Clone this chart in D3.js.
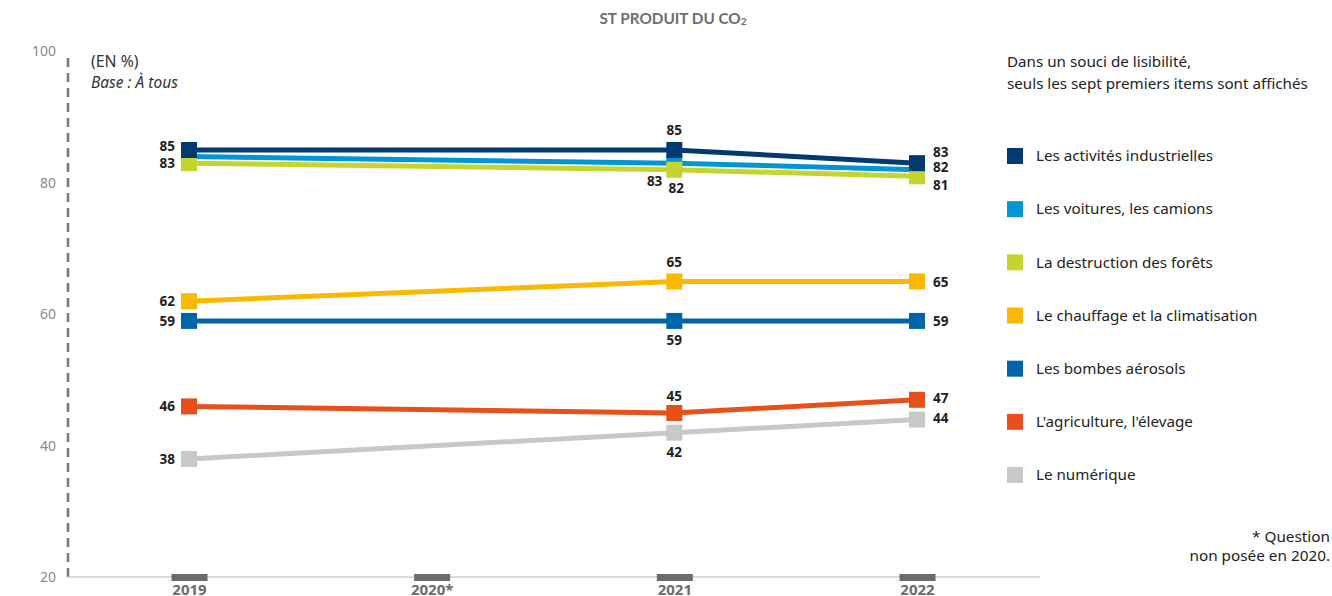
<!DOCTYPE html>
<html lang="fr">
<head>
<meta charset="utf-8">
<script src="https://cdn.jsdelivr.net/npm/d3@7"></script>
<style>
  html, body { margin: 0; padding: 0; background: #fff; }
  svg { display: block; font-family: "Noto Sans", "Open Sans", sans-serif; }
</style>
</head>
<body>
<svg id="chart" width="1332" height="596"></svg>
<script>
// Years on the x axis (2020 was not asked)
const years = ["2019", "2020*", "2021", "2022"];
const dataYears = ["2019", "2021", "2022"];

// Items, in legend order
const items = [
  "Les activités industrielles",
  "Les voitures, les camions",
  "La destruction des forêts",
  "Le chauffage et la climatisation",
  "Les bombes aérosols",
  "L'agriculture, l'élevage",
  "Le numérique"
];

// Values (%) for 2019, 2021, 2022
const industrie   = [85, 85, 83];
const voitures    = [84, 83, 82];
const forets      = [83, 82, 81];
const chauffage   = [62, 65, 65];
const aerosols    = [59, 59, 59];
const agriculture = [46, 45, 47];
const numerique   = [38, 42, 44];

const yTicks = [20, 40, 60, 80, 100];

const colors = ["#003a70", "#0096d6", "#c4d52f", "#fbb800", "#0065a8", "#e8501b", "#c8c8c8"];

const seriesValues = [industrie, voitures, forets, chauffage, aerosols, agriculture, numerique];
const series = items.map((name, i) => ({ name, color: colors[i], values: seriesValues[i] }));

// Where each value label sits relative to its marker: [dx, dy, anchor], null = no label
const labelPlacement = [
  [[-14, -4, "end"], [0, -20, "middle"], [16, -11, "start"]],
  [null,             [-12, 18, "end"],   [16, -2, "start"]],
  [[-14, 0, "end"],  [2, 19, "middle"],  [16, 9, "start"]],
  [[-14, 0, "end"],  [0, -19, "middle"], [16, 1, "start"]],
  [[-14, 0, "end"],  [0, 19, "middle"],  [16, 0, "start"]],
  [[-14, 0, "end"],  [0, -17, "middle"], [16, -2, "start"]],
  [[-14, 0, "end"],  [0, 20, "middle"],  [16, -1, "start"]]
];

const svg = d3.select("#chart");

const x = d3.scalePoint().domain(years).range([189, 917]);
const y = d3.scaleLinear().domain([20, 100]).range([577.3, 51.4]);

// Title
const title = svg.append("text")
  .attr("x", 673).attr("y", 24)
  .attr("text-anchor", "middle")
  .attr("font-family", "Lato, 'Noto Sans', sans-serif")
  .attr("font-weight", 700).attr("font-size", 15.3)
  .attr("fill", "#6e6e6e")
  .text("ST PRODUIT DU CO");
title.append("tspan").attr("font-size", 10).attr("dy", 1).text("2");

// Y axis: dashed line with tick labels
svg.append("line")
  .attr("x1", 68).attr("x2", 68)
  .attr("y1", 58).attr("y2", 577)
  .attr("stroke", "#7a7a7a").attr("stroke-width", 2.6)
  .attr("stroke-dasharray", "9,6");

const yAxis = svg.append("g")
  .attr("transform", "translate(56,0)")
  .call(d3.axisLeft(y).tickValues(yTicks).tickSize(0).tickPadding(0));
yAxis.select(".domain").remove();
yAxis.selectAll("text")
  .attr("font-family", "'Noto Sans', sans-serif")
  .attr("font-size", 14).attr("fill", "#8a8a8a");

// X axis: light baseline, dark tick blocks, bold year labels
svg.append("line")
  .attr("x1", 68).attr("x2", 1040)
  .attr("y1", 577).attr("y2", 577)
  .attr("stroke", "#cfcfcf").attr("stroke-width", 1.5);

const xAxis = svg.append("g")
  .attr("transform", "translate(0,574)")
  .call(d3.axisBottom(x).tickSize(0).tickPadding(0));
xAxis.select(".domain").remove();
xAxis.selectAll(".tick").append("rect")
  .attr("x", -18).attr("y", 0).attr("width", 36).attr("height", 7)
  .attr("fill", "#6b6b6b");
xAxis.selectAll(".tick text")
  .attr("y", 10)
  .attr("dy", "0.71em")
  .attr("font-family", "'Noto Sans', sans-serif")
  .attr("font-weight", 700).attr("font-size", 15)
  .attr("fill", "#6b6b6b");

// Unit and base
svg.append("text").attr("x", 91).attr("y", 67)
  .attr("font-size", 15.8).attr("fill", "#333").text("(EN %)");
svg.append("text").attr("x", 91).attr("y", 88)
  .attr("font-size", 15.5).attr("font-style", "italic").attr("fill", "#333").text("Base : À tous");

// Lines and markers; the second series goes underneath the others
const drawOrder = [1, 6, 5, 4, 3, 2, 0];
const line = d3.line().x(d => x(d.year)).y(d => y(d.value));
const plot = svg.append("g");

drawOrder.forEach(i => {
  const s = series[i];
  const pts = dataYears.map((yr, k) => ({ year: yr, value: s.values[k] }));
  const g = plot.append("g");
  g.append("path").datum(pts)
    .attr("d", line).attr("fill", "none")
    .attr("stroke", "#fff").attr("stroke-width", 7);
  g.append("path").datum(pts)
    .attr("d", line).attr("fill", "none")
    .attr("stroke", s.color).attr("stroke-width", 5);
  g.selectAll("rect").data(pts).join("rect")
    .attr("x", d => x(d.year) - 8).attr("y", d => y(d.value) - 8)
    .attr("width", 16).attr("height", 16)
    .attr("fill", s.color);
});

// Value labels
const labels = svg.append("g")
  .attr("font-family", "'Noto Sans', sans-serif")
  .attr("font-weight", 700).attr("font-size", 13.5).attr("fill", "#1e1e1e");
series.forEach((s, i) => {
  dataYears.forEach((yr, k) => {
    const p = labelPlacement[i][k];
    if (!p) return;
    labels.append("text")
      .attr("x", x(yr) + p[0])
      .attr("y", y(s.values[k]) + p[1])
      .attr("dy", "0.35em")
      .attr("text-anchor", p[2])
      .text(s.values[k]);
  });
});

// Legend
const legend = svg.append("g").attr("font-size", 15.2).attr("fill", "#222");
legend.append("text").attr("x", 1007).attr("y", 67).text("Dans un souci de lisibilité,");
legend.append("text").attr("x", 1007).attr("y", 89).text("seuls les sept premiers items sont affichés");

const legendY = d3.scalePoint().domain(items).range([156, 475]);
items.forEach((name, i) => {
  const ly = legendY(name);
  legend.append("rect")
    .attr("x", 1007).attr("y", ly - 8).attr("width", 16).attr("height", 16)
    .attr("fill", colors[i]);
  legend.append("text")
    .attr("x", 1036).attr("y", ly).attr("dy", "0.35em")
    .text(name);
});

// Footnote
const foot = svg.append("g").attr("font-size", 15.3).attr("fill", "#222").attr("text-anchor", "end");
foot.append("text").attr("x", 1330).attr("y", 542).text("* Question");
foot.append("text").attr("x", 1330).attr("y", 561).text("non posée en 2020.");
</script>
</body>
</html>
